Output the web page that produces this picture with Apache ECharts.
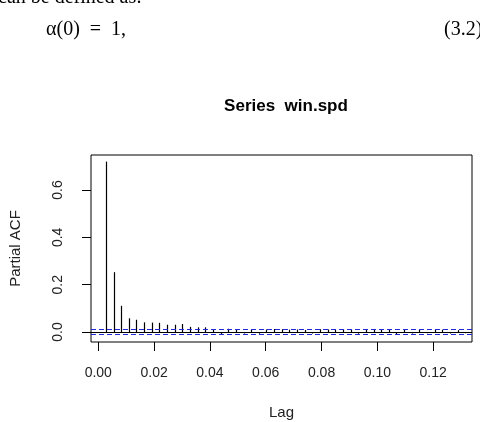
<!DOCTYPE html>
<html lang="en">
<head>
    <meta charset="UTF-8">
    <title>Series win.spd</title>
    <script src="https://cdn.jsdelivr.net/npm/echarts@6/dist/echarts.min.js"></script>
    <style>
        *{ margin: 0; }
        html,body{ width: 480px; height: 422px; background: #fff; }
        #chart{ width: 480px; height: 422px; }
    </style>
</head>
<body>
<div id="chart"></div>
<script>
    // lag index (in observations) and series frequency -> lag in years
    const lagIndex = [1,2,3,4,5,6,7,8,9,10,11,12,13,14,15,16,17,18,19,20,21,22,23,24,
                      25,26,27,28,29,30,31,32,33,34,35,36,37,38,39,40,41,42,43,44,45,46,47,48];
    const frequency = 365;
    const pacf = [0.720, 0.253, 0.111, 0.058, 0.052, 0.041, 0.040, 0.039, 0.031, 0.031, 0.034, 0.022,
                  0.020, 0.020, 0.012, -0.008, 0.014, 0.013, -0.006, 0.010, -0.007, 0.011, 0.013, 0.012,
                  0.010, 0.011, 0.009, -0.006, 0.012, 0.011, 0.010, 0.012, 0.011, -0.007, 0.009, 0.013,
                  0.012, 0.009, -0.008, 0.010, -0.006, 0.009, -0.005, 0.011, 0.010, -0.006, 0.008, -0.005];
    const ciLevel = 0.008;
    const xTicks = [0, 0.02, 0.04, 0.06, 0.08, 0.10, 0.12];
    const yTicks = [0, 0.2, 0.4, 0.6];

    const data = lagIndex.map((k, i) => [k / frequency, pacf[i]]);

    let chart = echarts.init(document.getElementById('chart'));
    chart.setOption({
        animation: false,
        textStyle: { fontFamily: 'Liberation Sans' },
        title: {
            text: 'Series  win.spd',
            left: 281, top: 93, textAlign: 'center',
            textStyle: { fontSize: 17, fontWeight: 'bold', color: '#000', fontFamily: 'Liberation Sans' }
        },
        graphic: [
            // previous line of the page, cut off by the top edge
            { type: 'text', x: -2, y: -12, style: { text: 'can be defined as:', font: '20px "Liberation Serif"', fill: '#000' } },
            { type: 'text', left: 46, top: 20, style: { text: 'α(0)\u2002=\u20021,', font: '20px "Liberation Serif"', fill: '#000' } },
            { type: 'text', left: 444, top: 20, style: { text: '(3.2)', font: '20px "Liberation Serif"', fill: '#000' } }
        ],
        grid: {
            left: 91, top: 155, right: 8, bottom: 80,
            show: true, borderColor: '#000', borderWidth: 1, backgroundColor: 'transparent'
        },
        xAxis: {
            type: 'value', min: -0.0026, max: 0.1339,
            name: 'Lag', nameLocation: 'middle', nameGap: 63,
            nameTextStyle: { fontSize: 15, color: '#222' },
            axisLine: { show: false, onZero: false },
            splitLine: { show: false },
            axisTick: { show: true, inside: false, length: 9, customValues: xTicks, lineStyle: { color: '#000' } },
            axisLabel: { customValues: xTicks, margin: 24, fontSize: 14, color: '#222',
                         formatter: v => v.toFixed(2) }
        },
        yAxis: {
            type: 'value', min: -0.042, max: 0.748,
            name: 'Partial ACF', nameLocation: 'middle', nameGap: 68, nameRotate: 90,
            nameTextStyle: { fontSize: 15, color: '#222' },
            axisLine: { show: false, onZero: false },
            splitLine: { show: false },
            axisTick: { show: true, inside: false, length: 9, customValues: yTicks, lineStyle: { color: '#000' } },
            axisLabel: { customValues: yTicks, margin: 26, fontSize: 14, color: '#222', rotate: 90,
                         formatter: v => v.toFixed(1) }
        },
        series: [
            {
                type: 'custom',
                data: data,
                silent: true,
                renderItem: function (params, api) {
                    const base = api.coord([api.value(0), 0]);
                    const top = api.coord([api.value(0), api.value(1)]);
                    const x = Math.round(base[0]) + 0.5;
                    return {
                        type: 'line',
                        shape: { x1: x, y1: base[1], x2: x, y2: top[1] },
                        style: { stroke: '#000', lineWidth: 1.2 }
                    };
                }
            },
            {
                type: 'line',
                data: [],
                silent: true,
                markLine: {
                    silent: true, symbol: 'none', label: { show: false },
                    data: [
                        { yAxis: 0, lineStyle: { color: '#000', type: 'solid', width: 1 } },
                        { yAxis: ciLevel, lineStyle: { color: '#2626d9', type: [5, 3], width: 1 } },
                        { yAxis: -ciLevel, lineStyle: { color: '#2626d9', type: [5, 3], width: 1 } }
                    ]
                }
            }
        ]
    });
</script>
</body>
</html>
